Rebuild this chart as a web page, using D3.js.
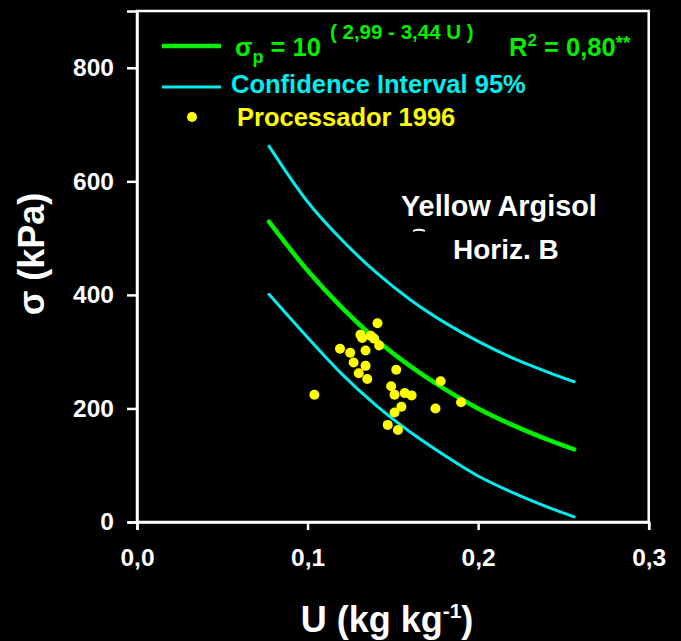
<!DOCTYPE html>
<html>
<head>
<meta charset="utf-8">
<script src="https://cdn.jsdelivr.net/npm/d3@7"></script>
<style>
  html, body { margin: 0; padding: 0; background: #000; }
  svg { display: block; }
  text { font-family: "Liberation Sans", Arial, sans-serif; font-weight: bold; }
</style>
</head>
<body>
<svg id="chart" width="681" height="641"></svg>
<script>
// Water content grid (kg kg-1) for the fitted curve and its 95% band
const uGrid = [0.0774, 0.10, 0.12, 0.14, 0.16, 0.18, 0.20, 0.22, 0.24, 0.2563];
// Preconsolidation pressure, sigma_p = 10^(2.99 - 3.44 U), kPa
const fitSigma = [529, 443, 378, 322, 275, 235, 200, 171, 146, 128];
const upperSigma = [662, 564, 497, 440, 392, 352, 318, 289, 265, 247];
const lowerSigma = [401, 325, 261, 206, 159, 118, 81, 52, 27, 9];

// Processador 1996 measurements
const obsU = [0.104, 0.119, 0.125, 0.127, 0.130, 0.135, 0.134, 0.134, 0.131, 0.132,
              0.137, 0.139, 0.142, 0.141, 0.152, 0.149, 0.151, 0.157, 0.161, 0.155,
              0.151, 0.147, 0.153, 0.175, 0.178, 0.190];
const obsSigma = [224, 305, 298, 281, 262, 252, 275, 302, 330, 324,
                  328, 323, 311, 350, 268, 239, 224, 227, 223, 203,
                  193, 171, 162, 200, 248, 211];

const xTicks = [0, 0.1, 0.2, 0.3];
const xTickLabels = ["0,0", "0,1", "0,2", "0,3"];
const yTicks = [0, 200, 400, 600, 800];

const GREEN = "#00f000", CYAN = "#00eeee", YELLOW = "#ffff00", WHITE = "#ffffff";

const svg = d3.select("#chart");
svg.append("rect").attr("width", 681).attr("height", 641).attr("fill", "#000");

const x = d3.scaleLinear().domain([0, 0.3]).range([137, 648.7]);
const y = d3.scaleLinear().domain([0, 900]).range([522, 11]);

// Plot frame
svg.append("rect")
  .attr("x", x(0)).attr("y", y(900))
  .attr("width", x(0.3) - x(0)).attr("height", y(0) - y(900))
  .attr("fill", "none").attr("stroke", WHITE).attr("stroke-width", 2.5);

// Axes
const yAxis = svg.append("g")
  .attr("transform", `translate(${x(0)},0)`)
  .call(d3.axisLeft(y).tickValues(yTicks).tickSize(10).tickPadding(13));
const xAxis = svg.append("g")
  .attr("transform", `translate(0,${y(0)})`)
  .call(d3.axisBottom(x).tickValues(xTicks).tickSize(8).tickPadding(19)
        .tickFormat((d, i) => xTickLabels[i]));
[yAxis, xAxis].forEach(g => {
  g.select(".domain").attr("stroke", WHITE).attr("stroke-width", 2.5);
  g.selectAll(".tick line").attr("stroke", WHITE).attr("stroke-width", 2.5);
  g.selectAll(".tick text").attr("fill", WHITE)
    .style("font-size", "24.5px").style("font-family", "'Liberation Sans', Arial, sans-serif")
    .style("font-weight", "bold");
});

// Curves
const line = d3.line().x(d => x(d[0])).y(d => y(d[1])).curve(d3.curveMonotoneX);
const band = [upperSigma, lowerSigma];
band.forEach(vals => {
  svg.append("path")
    .datum(uGrid.map((u, i) => [u, vals[i]]))
    .attr("d", line).attr("fill", "none")
    .attr("stroke", CYAN).attr("stroke-width", 3).attr("stroke-linecap", "round");
});
svg.append("path")
  .datum(uGrid.map((u, i) => [u, fitSigma[i]]))
  .attr("d", line).attr("fill", "none")
  .attr("stroke", GREEN).attr("stroke-width", 4.5).attr("stroke-linecap", "round");

// Observations
svg.append("g").selectAll("circle")
  .data(obsU.map((u, i) => [u, obsSigma[i]]))
  .join("circle")
  .attr("cx", d => x(d[0])).attr("cy", d => y(d[1]))
  .attr("r", 5).attr("fill", YELLOW);

// Legend
const lg = svg.append("g");
lg.append("line").attr("x1", 162).attr("x2", 221).attr("y1", 46).attr("y2", 46)
  .attr("stroke", GREEN).attr("stroke-width", 4.5);
const eq = lg.append("text").attr("x", 235).attr("y", 56).attr("fill", GREEN).style("font-size", "25.5px");
eq.append("tspan").text("σ");
eq.append("tspan").attr("dy", 7).style("font-size", "18px").text("p");
eq.append("tspan").attr("dy", -7).text(" = 10");
lg.append("text").attr("x", 330).attr("y", 39).attr("fill", GREEN)
  .style("font-size", "20.5px").text("( 2,99 - 3,44 U )");
const r2 = lg.append("text").attr("x", 509).attr("y", 56).attr("fill", GREEN).style("font-size", "25.5px");
r2.append("tspan").text("R");
r2.append("tspan").attr("dy", -10).style("font-size", "17px").text("2");
r2.append("tspan").attr("dy", 10).text(" = 0,80");
r2.append("tspan").attr("dy", -7).style("font-size", "19px").text("**");

lg.append("line").attr("x1", 162).attr("x2", 221).attr("y1", 87).attr("y2", 87)
  .attr("stroke", CYAN).attr("stroke-width", 3);
lg.append("text").attr("x", 231).attr("y", 93).attr("fill", CYAN)
  .style("font-size", "25.5px").text("Confidence Interval 95%");

lg.append("circle").attr("cx", 192).attr("cy", 117).attr("r", 5).attr("fill", YELLOW);
lg.append("text").attr("x", 237).attr("y", 126).attr("fill", YELLOW)
  .style("font-size", "25.5px").text("Processador 1996");

// Soil annotation
svg.append("text").attr("x", 401).attr("y", 216).attr("fill", WHITE)
  .style("font-size", "28.8px").text("Yellow Argisol");
svg.append("path").attr("d", "M413,231 Q419,228.5 425,231")
  .attr("fill", "none").attr("stroke", WHITE).attr("stroke-width", 1.8);
svg.append("text").attr("x", 453).attr("y", 259).attr("fill", WHITE)
  .style("font-size", "28px").text("Horiz. B");

// Axis titles
const xt = svg.append("text").attr("x", 387).attr("y", 632).attr("fill", WHITE)
  .attr("text-anchor", "middle").style("font-size", "36px");
xt.append("tspan").text("U (kg kg");
xt.append("tspan").attr("dy", -14).style("font-size", "21px").text("-1");
xt.append("tspan").attr("dy", 14).text(")");

svg.append("text")
  .attr("transform", "translate(44,254) rotate(-90)")
  .attr("text-anchor", "middle").attr("fill", WHITE)
  .style("font-size", "36px").text("σ (kPa)");
</script>
</body>
</html>
